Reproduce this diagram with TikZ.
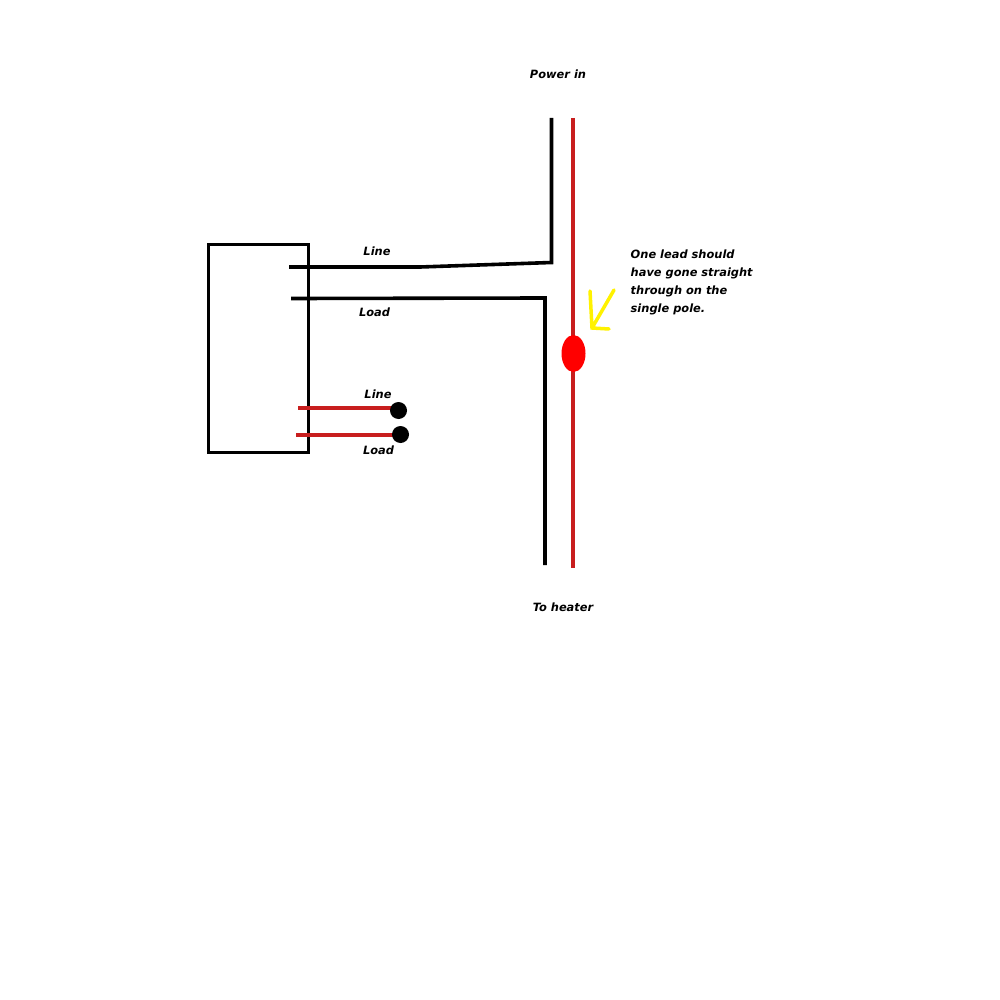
\documentclass[tikz,border=0pt]{standalone}
\usepackage{fontspec}
\setmainfont{DejaVu Sans}
\usetikzlibrary{shapes.geometric}
\definecolor{wirered}{RGB}{200,30,30}
\begin{document}
\begin{tikzpicture}[x=1pt,y=-1pt,
 lbl/.style={font=\fontsize{11.4}{18}\selectfont\bfseries\itshape,inner sep=0pt,text=black},
 blk/.style={draw=black,line width=3.6pt},
 redw/.style={draw=wirered,line width=3.8pt},
 dot/.style={circle,fill=black,inner sep=0pt,minimum size=17pt}]
\useasboundingbox (0,0) rectangle (1000,1000);
\fill[white] (0,0) rectangle (1000,1000);
\node[draw=black,line width=3pt,minimum width=100pt,minimum height=208pt,inner sep=0pt] (box) at (258.5,348.5) {};
\coordinate (ptop) at (551.5,118);
\coordinate (pbend) at (551.5,262.5);
\coordinate (lmid) at (420,267);
\coordinate (lineend) at (289,267);
\coordinate (loadend) at (291,298.5);
\coordinate (lbend) at (545,298);
\coordinate (lbot) at (545,565);
\draw[blk] (ptop) -- (pbend) -- (lmid) -- (lineend);
\draw[blk] (loadend) -- (lbend) -- (lbot);
\coordinate (rtop) at (573,118);
\coordinate (rbot) at (573,568);
\draw[redw] (rtop) -- (rbot);
\node[ellipse,fill=red,minimum width=24pt,minimum height=37pt,inner sep=0pt] (fuse) at (573.5,353.5) {};
\coordinate (r1) at (298,408);
\coordinate (r1e) at (395,408);
\coordinate (r2) at (296,435);
\coordinate (r2e) at (397,435);
\draw[redw] (r1) -- (r1e);
\draw[redw] (r2) -- (r2e);
\node[dot] (d1) at (398.5,410.5) {};
\node[dot] (d2) at (400.5,434.5) {};
\coordinate (y1) at (614,290);
\coordinate (y2) at (592,328);
\coordinate (y3) at (590,291);
\coordinate (y4) at (609,329);
\draw[draw=yellow,line width=3.5pt,line cap=round] (y1) -- (y2) (y3) -- (y2) -- (y4);
\node[lbl] (t1) at (558,74.5) {Power in};
\node[lbl] (t2) at (563,607.5) {To heater};
\node[lbl] (t3) at (377,251.5) {Line};
\node[lbl] (t4) at (374.5,312.5) {Load};
\node[lbl] (t5) at (378,394.5) {Line};
\node[lbl] (t6) at (378.5,450.5) {Load};
\node[lbl,anchor=north west,align=left] (t7) at (630.5,249.5) {One lead should\\have gone straight\\through on the\\single pole.};
\end{tikzpicture}
\end{document}
